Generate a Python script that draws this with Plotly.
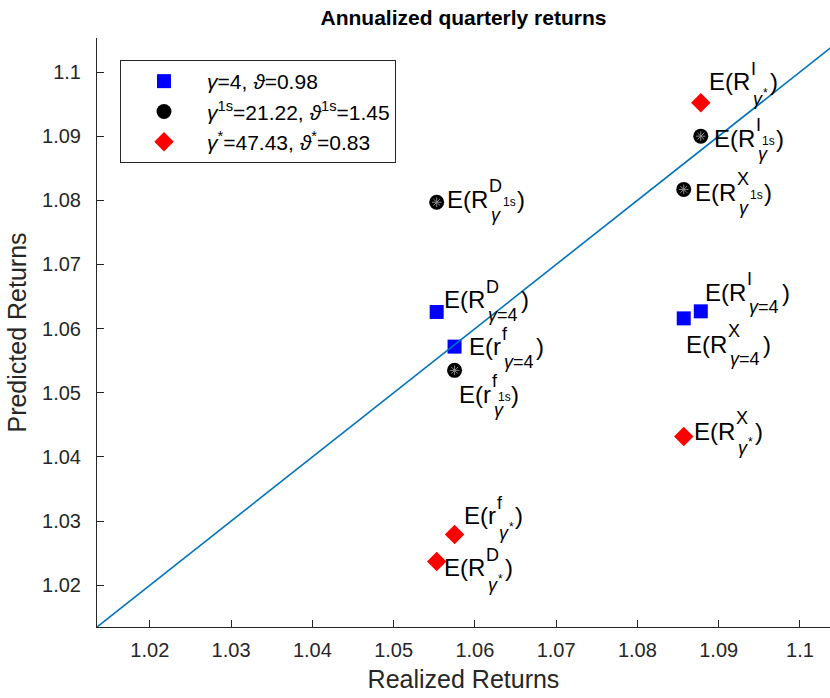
import plotly.graph_objects as go

# ---------------- data ----------------
x_limits = [1.0135, 1.1037]
y_limits = [1.0135, 1.1053]
tick_vals = [1.02, 1.03, 1.04, 1.05, 1.06, 1.07, 1.08, 1.09, 1.10]
tick_text = ["1.02", "1.03", "1.04", "1.05", "1.06", "1.07", "1.08", "1.09", "1.1"]

assets = ["D", "f", "I", "X"]          # R^D, r^f, R^I, R^X
asset_main = ["E(R", "E(r", "E(R", "E(R"]

# gamma = 4 (blue squares)
g4_realized = [1.0553, 1.0575, 1.0878, 1.0857]
g4_predicted = [1.0626, 1.0572, 1.0627, 1.0616]
# gamma^1s (black circles)
g1s_realized = [1.0553, 1.0575, 1.0878, 1.0857]
g1s_predicted = [1.0797, 1.0535, 1.0900, 1.0817]
# gamma^* (red diamonds)
gs_realized = [1.0553, 1.0575, 1.0878, 1.0857]
gs_predicted = [1.0237, 1.0279, 1.0952, 1.0432]

legend_names = [
    "<i>γ</i>=4, <i>ϑ</i>=0.98",
    "<i>γ</i><sup>1s</sup>=21.22, <i>ϑ</i><sup>1s</sup>=1.45",
    "<i>γ</i><sup>*</sup>=47.43, <i>ϑ</i><sup>*</sup>=0.83",
]

# ---------------- style ----------------
FONT = "Liberation Sans, Arial, Helvetica, sans-serif"
AX = "#262626"
M_FS, S_FS, N_FS = 24, 18, 12

# label offsets (px right, px down) of main text relative to the marker
offs_g4 = [(6, -12), (13, 0), (3, -19), (1, 26)]
offs_g1s = [(9, -3), (3, 24), (12, 2), (10, 3)]
offs_gs = [(6, 6), (8, -19), (7, -21), (9, -5)]

W = {'E': 667, '(': 333, ')': 333, 'R': 722, 'r': 333, 'D': 722, 'f': 278,
     'I': 278, 'X': 667, 'γ': 500, '=': 584, '4': 556, '1': 556, 's': 500, '*': 389}


def tw(s, fs):
    return sum(W.get(c, 556) for c in s) * fs / 1000.0


fig = go.Figure()

fig.add_trace(go.Scatter(x=g4_realized, y=g4_predicted, mode="markers", name=legend_names[0],
                         marker=dict(symbol="square", size=14, color="#0000FF",
                                     line=dict(width=0))))
fig.add_trace(go.Scatter(x=g1s_realized, y=g1s_predicted, mode="markers", name=legend_names[1],
                         marker=dict(symbol="circle", size=15, color="black",
                                     line=dict(width=0))))
fig.add_trace(go.Scatter(x=g1s_realized, y=g1s_predicted, mode="markers", showlegend=False,
                         hoverinfo="skip",
                         marker=dict(symbol="asterisk-open", size=8, color="#8c8c8c",
                                     line=dict(width=1, color="#8c8c8c"))))
fig.add_trace(go.Scatter(x=gs_realized, y=gs_predicted, mode="markers", name=legend_names[2],
                         marker=dict(symbol="diamond", size=15, color="#FF0000",
                                     line=dict(width=0))))
fig.add_trace(go.Scatter(x=[y_limits[0], y_limits[1]], y=[y_limits[0], y_limits[1]],
                         mode="lines", showlegend=False, hoverinfo="skip",
                         line=dict(color="#0072BD", width=1.6)))

annotations = []


def piece(x, y, text, fs, dx, dy):
    annotations.append(dict(x=x, y=y, xref="x", yref="y", text=text, showarrow=False,
                            xanchor="left", yanchor="middle", xshift=dx, yshift=-dy,
                            borderpad=0, font=dict(family=FONT, size=fs, color="black")))


def add_labels(xs, ys, offs, kind):
    for i in range(len(xs)):
        dx, dy = offs[i]
        main = asset_main[i]
        sup = assets[i]
        x, y = xs[i], ys[i]
        piece(x, y, main, M_FS, dx, dy)
        wm = tw(main, M_FS)
        sx = dx + wm + 1
        piece(x, y, sup, S_FS, sx, dy - 13)
        sup_end = sx + tw(sup, S_FS)
        sbx = dx + wm + 3
        if kind == "g4":
            piece(x, y, "<i>γ</i>=4", S_FS, sbx, dy + 15)
            sub_end = sbx + tw("γ=4", S_FS) + 2
        elif kind == "g1s":
            piece(x, y, "1s", N_FS, sup_end + 1, dy + 3)
            sup_end = sup_end + 1 + tw("1s", N_FS)
            piece(x, y, "<i>γ</i>", S_FS, sbx, dy + 16)
            sub_end = sbx + tw("γ", S_FS) + 1
        else:
            piece(x, y, "<i>γ</i>", S_FS, sbx, dy + 17)
            piece(x, y, "*", N_FS, sbx + tw("γ", S_FS) + 1, dy + 11)
            sub_end = sbx + tw("γ", S_FS) + 1 + tw("*", N_FS) + 1
        piece(x, y, ")", M_FS, max(sup_end, sub_end) + 1, dy)


add_labels(g4_realized, g4_predicted, offs_g4, "g4")
add_labels(g1s_realized, g1s_predicted, offs_g1s, "g1s")
add_labels(gs_realized, gs_predicted, offs_gs, "gs")

axis_common = dict(showline=True, linecolor=AX, linewidth=1, ticks="inside", ticklen=7,
                   tickcolor=AX, tickwidth=1, showgrid=False, zeroline=False, mirror=False,
                   tickfont=dict(family=FONT, size=20, color=AX),
                   tickvals=tick_vals, ticktext=tick_text)

fig.update_layout(
    width=830, height=698,
    margin=dict(l=97, r=0, t=38, b=71),
    paper_bgcolor="white", plot_bgcolor="white",
    title=dict(text="<b>Annualized quarterly returns</b>", x=0.5, xref="paper",
               y=1 - 18 / 698, yref="container", yanchor="middle", xanchor="center",
               font=dict(family=FONT, size=21, color="black")),
    xaxis=dict(range=x_limits, ticklabelstandoff=5,
               title=dict(text="Realized Returns", standoff=10,
                          font=dict(family=FONT, size=25, color=AX)),
               **axis_common),
    yaxis=dict(range=y_limits, ticklabelstandoff=11,
               title=dict(text="Predicted Returns", standoff=8,
                          font=dict(family=FONT, size=25, color=AX)),
               **axis_common),
    legend=dict(x=(120 - 97) / 733, y=(627 - 60) / 589, xanchor="left", yanchor="top",
                bordercolor=AX, borderwidth=1, bgcolor="white", itemwidth=76,
                font=dict(family=FONT, size=21, color="black"), tracegroupgap=0),
    annotations=annotations,
    showlegend=True,
)

fig.write_html("out.html")
